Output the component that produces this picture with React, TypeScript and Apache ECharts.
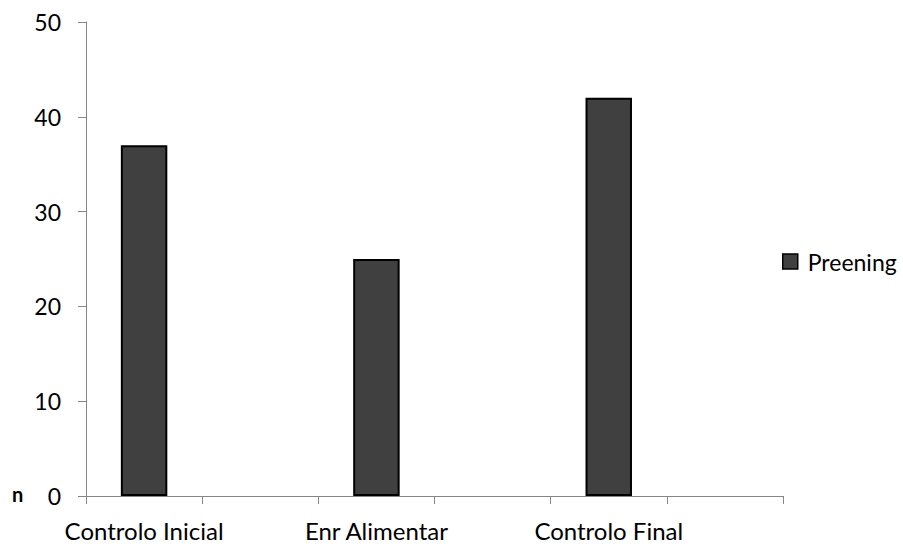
import React, { useEffect, useRef } from "react";
import * as echarts from "echarts";

const categories = ["Controlo Inicial", "", "Enr Alimentar", "", "Controlo Final", ""];
const preening = [37, null, 25, null, 42, null];
const seriesName = "Preening";
const yTicks = { min: 0, max: 50, interval: 10 };

const FONT = "Lato";

export default function App() {
  const ref = useRef<HTMLDivElement>(null);
  useEffect(() => {
    if (!ref.current) return;
    const chart = echarts.init(ref.current, null, { renderer: "svg" });
    chart.setOption({
      animation: false,
      backgroundColor: "#ffffff",
      textStyle: { fontFamily: FONT },
      grid: { left: 86, right: 120, top: 22, bottom: 50, containLabel: false },
      legend: {
        show: true,
        left: 782,
        top: 250,
        padding: 0,
        orient: "vertical",
        itemWidth: 15,
        itemHeight: 15,
        itemGap: 5,
        icon: "rect",
        itemStyle: { borderColor: "#000", borderWidth: 1.5 },
        textStyle: { fontFamily: FONT, fontSize: 23, color: "#000", padding: [0, 0, 0, 5] },
        data: [seriesName],
      },
      xAxis: {
        type: "category",
        data: categories,
        boundaryGap: true,
        axisLine: { lineStyle: { color: "#868686", width: 1 } },
        axisTick: { show: true, interval: 0, alignWithLabel: false, length: 8, lineStyle: { color: "#868686" } },
        axisLabel: { interval: 0, margin: 22, fontFamily: FONT, fontSize: 24, color: "#000" },
        splitLine: { show: false },
      },
      yAxis: {
        type: "value",
        min: yTicks.min,
        max: yTicks.max,
        interval: yTicks.interval,
        axisLine: { show: true, lineStyle: { color: "#868686", width: 1 } },
        axisTick: { show: true, length: 8, lineStyle: { color: "#868686" } },
        axisLabel: { margin: 25, fontFamily: FONT, fontSize: 23, color: "#000" },
        splitLine: { show: false },
      },
      graphic: [
        {
          type: "text",
          left: 12,
          top: 484,
          style: { text: "n", font: `bold 20px ${FONT}`, fill: "#000" },
        },
      ],
      series: [
        {
          name: seriesName,
          type: "bar",
          data: preening,
          barWidth: "40%",
          itemStyle: { color: "#404040", borderColor: "#000", borderWidth: 2 },
        },
      ],
    });
    return () => chart.dispose();
  }, []);
  return (
    <div
      ref={ref}
      style={{ position: "fixed", left: 0, top: 0, width: 903, height: 546 }}
    />
  );
}
